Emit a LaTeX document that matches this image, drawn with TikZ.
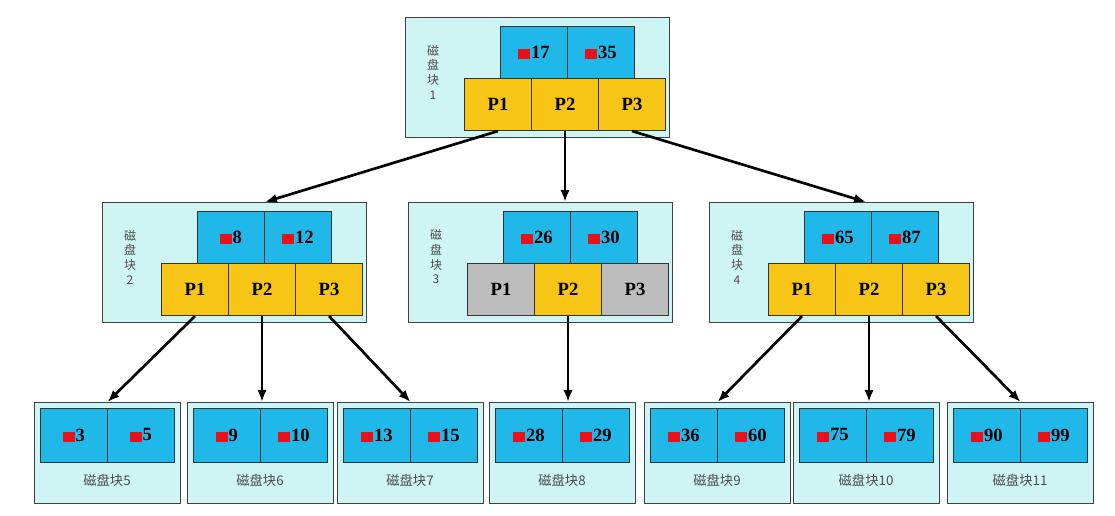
\documentclass[tikz,border=0pt]{standalone}
\usepackage{fontspec}
\setmainfont{Liberation Serif}
\newfontfamily\cjk{Noto Sans CJK SC}
\definecolor{outerc}{HTML}{CFF4F4}
\definecolor{keyc}{HTML}{20B8E8}
\definecolor{yelc}{HTML}{F6C516}
\definecolor{grayc}{HTML}{BDBDBD}
\definecolor{redc}{HTML}{E8101A}
\usetikzlibrary{arrows.meta}
\tikzset{
  outerbox/.style={draw=black!75, line width=0.8pt, fill=outerc, anchor=north west, minimum width=#1, inner sep=0pt},
  cell/.style={draw=black!80, line width=0.8pt, anchor=north west, minimum width=50.25pt, minimum height=39pt, inner sep=0pt, font=\fontsize{14}{16}\selectfont\bfseries},
  keycell/.style={cell, fill=keyc},
  pcell/.style={cell, fill=#1},
  lbl/.style={font=\cjk\fontsize{9}{11}\selectfont, text=black!70, align=center},
  arr/.style={-{Latex[length=9pt,width=7pt]}, line width=2pt},
}
\newcommand\sq{\textcolor{redc}{\raisebox{-1pt}{\rule{9pt}{8pt}}}\kern0.5pt}
% internal block: name, x, y, k1, k2, label num, p1 col, p3 col
\newcommand\inblock[8]{%
  \node[outerbox=198pt, minimum height=90pt] (#1) at (#2,#3) {};
  \node[keycell] (#1k1) at (#2+95,#3+9) {\sq#4};
  \node[keycell] (#1k2) at (#2+162,#3+9) {\sq#5};
  \node[pcell=#7] (#1p1) at (#2+59,#3+61) {P1};
  \node[pcell=yelc] (#1p2) at (#2+126,#3+61) {P2};
  \node[pcell=#8] (#1p3) at (#2+193,#3+61) {P3};
  \node[lbl] (#1l) at (#2+28,#3+55) {磁\\盘\\块\\#6};
}
% leaf block: name, x, y, k1, k2, num
\newcommand\leafblock[6]{%
  \node[outerbox=109.5pt, minimum height=75.75pt] (#1) at (#2,#3) {};
  \node[keycell, minimum height=40.5pt] (#1k1) at (#2+6,#3+6) {\sq#4};
  \node[keycell, minimum height=40.5pt] (#1k2) at (#2+73,#3+6) {\sq#5};
  \node[lbl, font=\cjk\fontsize{10}{12}\selectfont] (#1l) at (#2+73,#3+78) {磁盘块#6};
}
\begin{document}
\begin{tikzpicture}[x=0.75pt,y=-0.75pt]
\fill[white] (0,0) rectangle (1115,516);
\useasboundingbox (0,0) rectangle (1115,516);
\inblock{b1}{405}{17}{17}{35}{1}{yelc}{yelc}
\inblock{b2}{102}{202}{8}{12}{2}{yelc}{yelc}
\inblock{b3}{408}{202}{26}{30}{3}{grayc}{grayc}
\inblock{b4}{709}{202}{65}{87}{4}{yelc}{yelc}
\leafblock{l5}{34}{402}{3}{5}{5}
\leafblock{l6}{187}{402}{9}{10}{6}
\leafblock{l7}{337}{402}{13}{15}{7}
\leafblock{l8}{489}{402}{28}{29}{8}
\leafblock{l9}{644}{402}{36}{60}{9}
\leafblock{l10}{793}{402}{75}{79}{10}
\leafblock{l11}{947}{402}{90}{99}{11}
\draw[arr] (b1p1.south) -- ([xshift=122.25pt]b2.north west);
\draw[arr] (b1p2.south) -- (b1p2.south |- b3.north);
\draw[arr] (b1p3.south) -- ([xshift=117.75pt]b4.north west);
\draw[arr] (b2p1.south) -- (l5.north);
\draw[arr] (b2p2.south) -- (b2p2.south |- l6.north);
\draw[arr] (b2p3.south) -- (l7.north);
\draw[arr] (b3p2.south) -- (b3p2.south |- l8.north);
\draw[arr] (b4p1.south) -- (l9.north);
\draw[arr] (b4p2.south) -- (b4p2.south |- l10.north);
\draw[arr] (b4p3.south) -- (l11.north);
\end{tikzpicture}
\end{document}
